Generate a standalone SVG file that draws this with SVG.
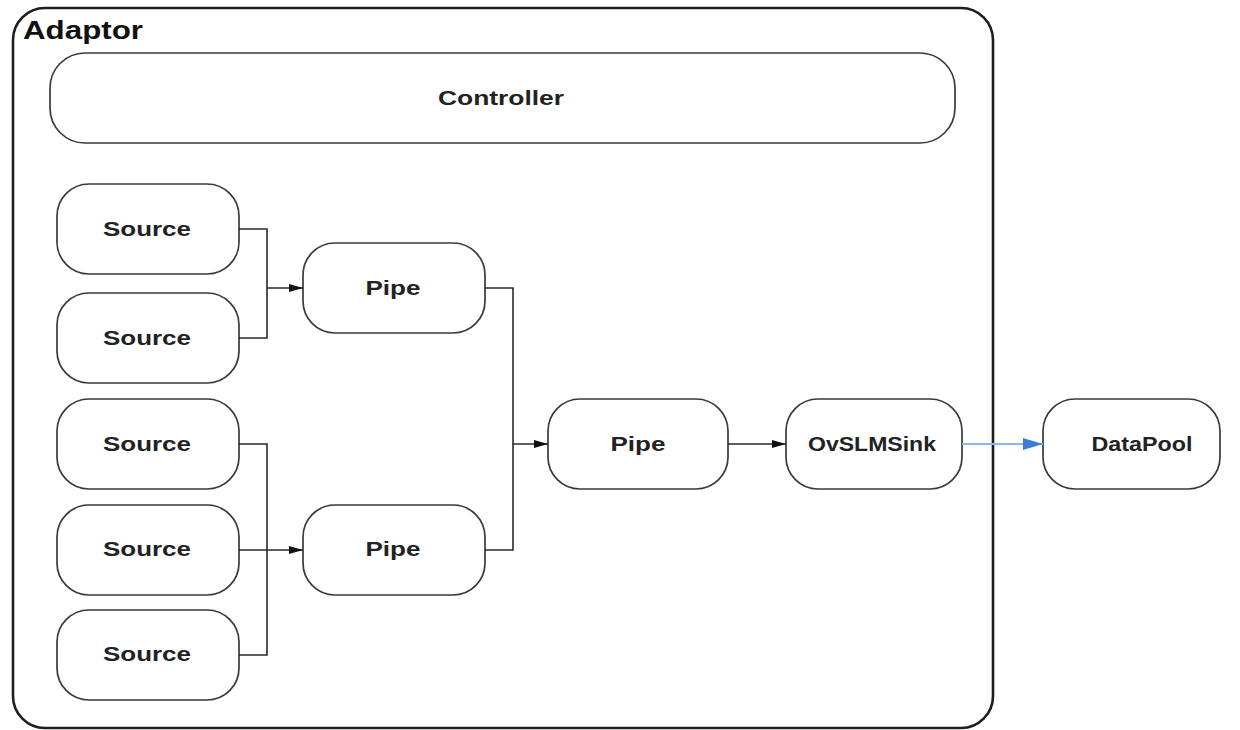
<svg xmlns="http://www.w3.org/2000/svg" width="1240" height="730" viewBox="0 0 1240 730">
  <style>
    .box { fill: #ffffff; stroke: #3a3a3a; stroke-width: 1.7; }
    .frame { fill: #ffffff; stroke: #1e1e1e; stroke-width: 2.6; }
    .lbl { font-family: "Liberation Sans", Arial, sans-serif; font-weight: bold; font-size: 21px; fill: #222222; text-anchor: middle; }
    .title { font-family: "Liberation Sans", Arial, sans-serif; font-weight: bold; font-size: 25px; fill: #111111; }
    .wire { fill: none; stroke: #2a2a2a; stroke-width: 1.6; }
    .wire-blue { fill: none; stroke: #8ab6ea; stroke-width: 2; }
  </style>
  <defs>
    <marker id="arr" viewBox="0 0 14 8" refX="14" refY="4" markerWidth="14" markerHeight="8" markerUnits="userSpaceOnUse" orient="auto">
      <path d="M0,0 L14,4 L0,8 Z" fill="#111111"/>
    </marker>
    <marker id="arrBlue" viewBox="0 0 20 12" refX="20" refY="6" markerWidth="20" markerHeight="12" markerUnits="userSpaceOnUse" orient="auto">
      <path d="M0,0 L20,6 L0,12 Z" fill="#3b7dd8"/>
    </marker>
  </defs>
  <rect width="1240" height="730" fill="#ffffff"/>

  <g id="adaptor">
    <rect class="frame" x="13" y="8" width="980" height="720" rx="32" ry="32"/>
    <text class="title" x="23" y="39" textLength="120" lengthAdjust="spacingAndGlyphs">Adaptor</text>
  </g>

  <g id="controller">
    <rect class="box" x="50" y="53" width="905" height="90" rx="35" ry="35"/>
    <text class="lbl" x="501" y="105" textLength="126" lengthAdjust="spacingAndGlyphs">Controller</text>
  </g>

  <g id="source1">
    <rect class="box" x="57" y="184" width="182" height="90" rx="32" ry="32"/>
    <text class="lbl" x="147" y="236" textLength="88" lengthAdjust="spacingAndGlyphs">Source</text>
  </g>
  <g id="source2">
    <rect class="box" x="57" y="293" width="182" height="90" rx="32" ry="32"/>
    <text class="lbl" x="147" y="345" textLength="88" lengthAdjust="spacingAndGlyphs">Source</text>
  </g>
  <g id="source3">
    <rect class="box" x="57" y="399" width="182" height="90" rx="32" ry="32"/>
    <text class="lbl" x="147" y="451" textLength="88" lengthAdjust="spacingAndGlyphs">Source</text>
  </g>
  <g id="source4">
    <rect class="box" x="57" y="505" width="182" height="90" rx="32" ry="32"/>
    <text class="lbl" x="147" y="556" textLength="88" lengthAdjust="spacingAndGlyphs">Source</text>
  </g>
  <g id="source5">
    <rect class="box" x="57" y="610" width="182" height="90" rx="32" ry="32"/>
    <text class="lbl" x="147" y="661" textLength="88" lengthAdjust="spacingAndGlyphs">Source</text>
  </g>

  <g id="pipe1">
    <rect class="box" x="303" y="243" width="182" height="90" rx="32" ry="32"/>
    <text class="lbl" x="393" y="295" textLength="55" lengthAdjust="spacingAndGlyphs">Pipe</text>
  </g>
  <g id="pipe2">
    <rect class="box" x="303" y="505" width="182" height="90" rx="32" ry="32"/>
    <text class="lbl" x="393" y="556" textLength="55" lengthAdjust="spacingAndGlyphs">Pipe</text>
  </g>
  <g id="pipe3">
    <rect class="box" x="548" y="399" width="180" height="90" rx="32" ry="32"/>
    <text class="lbl" x="638" y="451" textLength="55" lengthAdjust="spacingAndGlyphs">Pipe</text>
  </g>
  <g id="sink">
    <rect class="box" x="786" y="399" width="176" height="90" rx="32" ry="32"/>
    <text class="lbl" x="872" y="451" textLength="128" lengthAdjust="spacingAndGlyphs">OvSLMSink</text>
  </g>
  <g id="datapool">
    <rect class="box" x="1043" y="399" width="177" height="90" rx="32" ry="32"/>
    <text class="lbl" x="1142" y="451" textLength="101" lengthAdjust="spacingAndGlyphs">DataPool</text>
  </g>

  <g id="connectors">
    <path class="wire" d="M239,229 H267 V338 H239"/>
    <path class="wire" d="M267,288 H303" marker-end="url(#arr)"/>
    <path class="wire" d="M239,444 H267 V655 H239"/>
    <path class="wire" d="M239,550 H303" marker-end="url(#arr)"/>
    <path class="wire" d="M485,288 H513 V550 H485"/>
    <path class="wire" d="M513,444 H548" marker-end="url(#arr)"/>
    <path class="wire" d="M728,444 H786" marker-end="url(#arr)"/>
    <path class="wire-blue" d="M962,444 H1043" marker-end="url(#arrBlue)"/>
  </g>
</svg>
